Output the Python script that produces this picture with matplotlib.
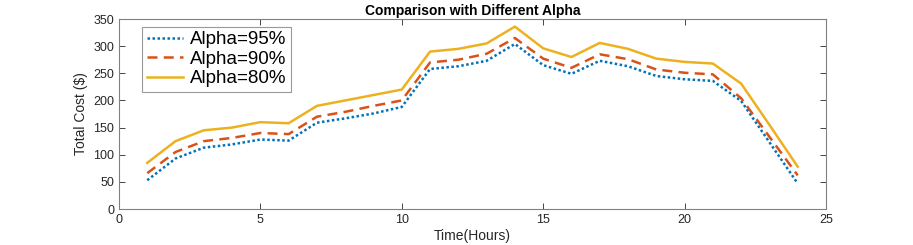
import matplotlib
matplotlib.use("Agg")
import matplotlib.pyplot as plt

plt.rcParams['font.family'] = ['Liberation Sans', 'DejaVu Sans']

hours = list(range(1, 25))
alpha95 = [53, 93, 113, 119, 128, 126, 159, 167, 176, 188, 258, 263, 273, 304,
           265, 249, 273, 263, 245, 239, 236, 199, 123, 47]
alpha90 = [66, 105, 125, 131, 140, 138, 170, 179, 190, 200, 270, 275, 286, 315,
           277, 260, 285, 276, 257, 251, 248, 204, 133, 62]
alpha80 = [85, 125, 145, 150, 160, 158, 190, 200, 210, 220, 290, 295, 305, 336,
           296, 280, 306, 295, 277, 271, 268, 231, 155, 78]
labels = ['Alpha=95%', 'Alpha=90%', 'Alpha=80%']
colors = ['#0072BD', '#D95319', '#EDB120']

fig = plt.figure(figsize=(9.13, 2.45), dpi=100)
ax = fig.add_axes([0.1303, 0.1469, 0.7744, 0.7755])

ax.plot(hours, alpha95, linestyle=(0, (1, 1)), color=colors[0], lw=1.8, label=labels[0])
ax.plot(hours, alpha90, linestyle=(0, (4, 2.5)), color=colors[1], lw=1.8, label=labels[1])
ax.plot(hours, alpha80, linestyle='-', color=colors[2], lw=1.8, label=labels[2])

ax.set_xlim(0, 25)
ax.set_ylim(0, 350)
ax.set_xticks([0, 5, 10, 15, 20, 25])
ax.set_yticks(range(0, 351, 50))
ax.tick_params(direction='in', top=True, right=True, labelsize=9, colors='#262626',
               length=4, width=0.6)
for s in ax.spines.values():
    s.set_color('#808080')
    s.set_linewidth(0.8)

ax.set_xlabel('Time(Hours)', fontsize=10, color='#262626', labelpad=2)
ax.set_ylabel('Total Cost (\\$)', fontsize=10, color='#262626', labelpad=4)
ax.set_title('Comparison with Different Alpha', fontsize=10, fontweight='bold', pad=3)

leg = ax.legend(loc='upper left', bbox_to_anchor=(0.033, 0.96), fontsize=13.5,
                frameon=True, fancybox=False, edgecolor='#808080',
                handlelength=1.9, handletextpad=0.4, borderpad=0.25,
                labelspacing=0.12, borderaxespad=0)
leg.get_frame().set_linewidth(0.8)

fig.savefig('out.png', dpi=100)
